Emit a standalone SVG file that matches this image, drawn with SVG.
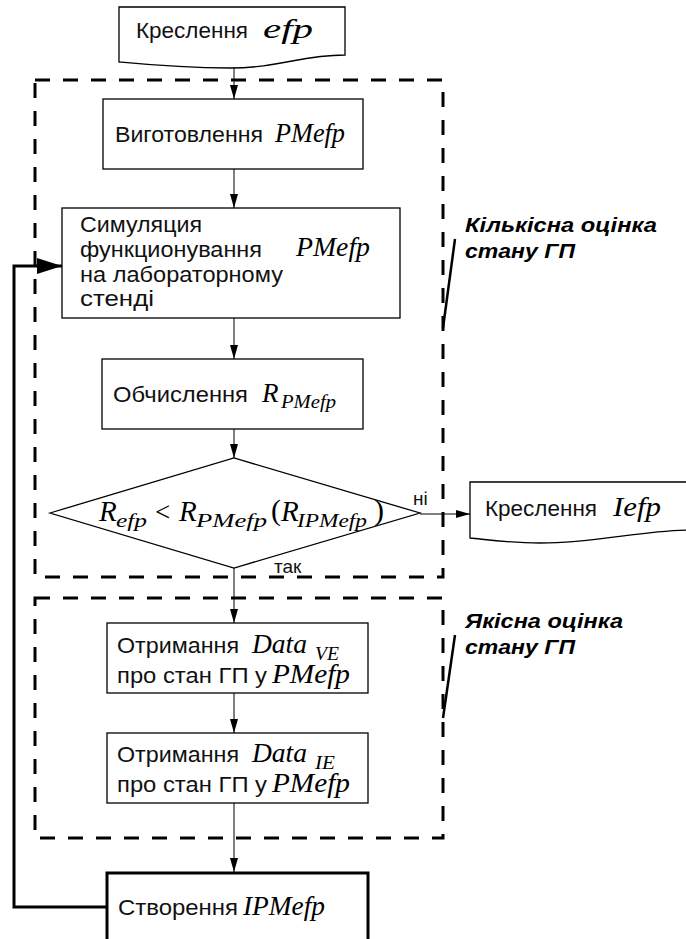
<svg xmlns="http://www.w3.org/2000/svg" width="686" height="939" viewBox="0 0 686 939">
<style>
.bg{fill:#fff}
.box{fill:#fff;stroke:#000;stroke-width:1.3}
.boxb{fill:#fff;stroke:#000;stroke-width:3}
.dash{fill:none;stroke:#000;stroke-width:3;stroke-dasharray:15 13}
.ln{fill:none;stroke:#000;stroke-width:1}
.lnb{fill:none;stroke:#000;stroke-width:3}
.t{font-family:"Liberation Sans",Arial,sans-serif;font-size:21.5px;fill:#111}
.m{font-family:"Liberation Serif","Times New Roman",serif;font-style:italic;font-size:27px;fill:#000}
.s{font-family:"Liberation Serif","Times New Roman",serif;font-style:italic;font-size:19px;fill:#000}
.u{font-family:"Liberation Serif","Times New Roman",serif;font-size:27px;fill:#000}
.lab{font-family:"Liberation Sans",Arial,sans-serif;font-size:19.5px;font-weight:bold;font-style:italic;fill:#000}
</style>
<defs>
<marker id="arr" viewBox="0 0 14 8" markerWidth="14" markerHeight="8" refX="14" refY="4" orient="auto" markerUnits="userSpaceOnUse"><path d="M0,0 L14,4 L0,8 Z" fill="#000"/></marker>
<marker id="arrb" viewBox="0 0 25 16" markerWidth="25" markerHeight="16" refX="25" refY="8" orient="auto" markerUnits="userSpaceOnUse"><path d="M0,0 L25,8 L0,16 Z" fill="#000"/></marker>
</defs>
<rect class="bg" x="0" y="0" width="686" height="939"/>

<g id="groups">
<rect class="dash" x="35" y="80" width="408" height="497"/>
<rect class="dash" x="35" y="598" width="408" height="240"/>
<line class="lnb" x1="455" y1="239" x2="443" y2="328" style="stroke-width:2.5"/>
<line class="lnb" x1="455" y1="635" x2="443" y2="718" style="stroke-width:2.5"/>
</g>

<g id="connectors">
<line class="ln" x1="234" y1="67" x2="234" y2="99" marker-end="url(#arr)"/>
<line class="ln" x1="234" y1="169" x2="234" y2="208" marker-end="url(#arr)"/>
<line class="ln" x1="234" y1="318" x2="234" y2="359" marker-end="url(#arr)"/>
<line class="ln" x1="234" y1="429" x2="234" y2="458" marker-end="url(#arr)"/>
<line class="ln" x1="420" y1="514" x2="470" y2="514" marker-end="url(#arr)"/>
<line class="ln" x1="234" y1="568" x2="234" y2="623" marker-end="url(#arr)"/>
<line class="ln" x1="234" y1="693" x2="234" y2="733" marker-end="url(#arr)"/>
<line class="ln" x1="234" y1="803" x2="234" y2="872" marker-end="url(#arr)"/>
<polyline class="lnb" points="107,907 14,907 14,266 62,266" marker-end="url(#arrb)"/>
<text class="t" x="413" y="505" style="font-size:19px">ні</text>
<text class="t" x="274" y="573" style="font-size:19px">так</text>
</g>

<g id="n-doc-efp">
<path class="box" d="M119,7 H345 V55 C300,55 280,68 230,68 C180,68 140,64 119,62 Z"/>
<text class="t" x="136" y="38" textLength="112" lengthAdjust="spacingAndGlyphs">Креслення</text>
<text class="m" x="263" y="38" textLength="50" lengthAdjust="spacingAndGlyphs">efp</text>
</g>

<g id="n-make">
<rect class="box" x="103" y="99" width="260" height="70"/>
<text class="t" x="115" y="142" textLength="148" lengthAdjust="spacingAndGlyphs">Виготовлення</text>
<text class="m" x="275" y="142" textLength="70" lengthAdjust="spacingAndGlyphs">PMefp</text>
</g>

<g id="n-sim">
<rect class="box" x="62" y="208" width="338" height="110"/>
<text class="t" x="80" y="232" textLength="122" lengthAdjust="spacingAndGlyphs">Симуляция</text>
<text class="t" x="80" y="257" textLength="182" lengthAdjust="spacingAndGlyphs">функционування</text>
<text class="t" x="80" y="282" textLength="203" lengthAdjust="spacingAndGlyphs">на лабораторному</text>
<text class="t" x="80" y="306" textLength="74" lengthAdjust="spacingAndGlyphs">стенді</text>
<text class="m" x="296" y="256" textLength="74" lengthAdjust="spacingAndGlyphs">PMefp</text>
</g>

<g id="n-calc">
<rect class="box" x="102" y="359" width="261" height="70"/>
<text class="t" x="113" y="402" textLength="135" lengthAdjust="spacingAndGlyphs">Обчислення</text>
<text class="m" x="262" y="402">R</text>
<text class="s" x="281" y="408" textLength="55" lengthAdjust="spacingAndGlyphs">PMefp</text>
</g>

<g id="n-decision">
<polygon class="box" points="50,513 234,458 420,513 234,568"/>
<text class="m" x="99" y="521" style="font-size:29px">R</text>
<text class="s" x="116" y="527" textLength="31" lengthAdjust="spacingAndGlyphs">efp</text>
<text class="u" x="155" y="521">&lt;</text>
<text class="m" x="179" y="521" style="font-size:29px">R</text>
<text class="s" x="196" y="527" textLength="71" lengthAdjust="spacingAndGlyphs">PMefp</text>
<text class="u" x="271" y="520" style="font-size:30px">(</text>
<text class="m" x="281" y="521" style="font-size:29px">R</text>
<text class="s" x="297" y="527" textLength="70" lengthAdjust="spacingAndGlyphs">IPMefp</text>
<text class="u" x="374" y="520" style="font-size:30px">)</text>
</g>

<g id="n-doc-iefp">
<path class="box" d="M470,482 H692 V530 C640,530 600,543 540,543 C510,543 490,540 470,538 Z"/>
<text class="t" x="485" y="516" textLength="112" lengthAdjust="spacingAndGlyphs">Креслення</text>
<text class="m" x="613" y="516" textLength="48" lengthAdjust="spacingAndGlyphs">Iefp</text>
</g>

<g id="n-data-ve">
<rect class="box" x="107" y="623" width="261" height="70"/>
<text class="t" x="117" y="653" textLength="122" lengthAdjust="spacingAndGlyphs">Отримання</text>
<text class="m" x="252" y="653" textLength="55" lengthAdjust="spacingAndGlyphs">Data</text>
<text class="s" x="315" y="660" textLength="24" lengthAdjust="spacingAndGlyphs">VE</text>
<text class="t" x="117" y="683" textLength="150" lengthAdjust="spacingAndGlyphs">про стан ГП у</text>
<text class="m" x="272" y="683" textLength="78" lengthAdjust="spacingAndGlyphs">PMefp</text>
</g>

<g id="n-data-ie">
<rect class="box" x="107" y="733" width="261" height="70"/>
<text class="t" x="117" y="762" textLength="122" lengthAdjust="spacingAndGlyphs">Отримання</text>
<text class="m" x="252" y="762" textLength="55" lengthAdjust="spacingAndGlyphs">Data</text>
<text class="s" x="315" y="769" textLength="20" lengthAdjust="spacingAndGlyphs">IE</text>
<text class="t" x="117" y="792" textLength="150" lengthAdjust="spacingAndGlyphs">про стан ГП у</text>
<text class="m" x="272" y="792" textLength="78" lengthAdjust="spacingAndGlyphs">PMefp</text>
</g>

<g id="n-create">
<rect class="boxb" x="107" y="873" width="261" height="75"/>
<text class="t" x="118" y="915" textLength="120" lengthAdjust="spacingAndGlyphs">Створення</text>
<text class="m" x="243" y="915" textLength="82" lengthAdjust="spacingAndGlyphs">IPMefp</text>
</g>

<g id="labels">
<text class="lab" x="465" y="232" textLength="192" lengthAdjust="spacingAndGlyphs">Кількісна оцінка</text>
<text class="lab" x="465" y="258" textLength="110" lengthAdjust="spacingAndGlyphs">стану ГП</text>
<text class="lab" x="465" y="628" textLength="158" lengthAdjust="spacingAndGlyphs">Якісна оцінка</text>
<text class="lab" x="465" y="654" textLength="110" lengthAdjust="spacingAndGlyphs">стану ГП</text>
</g>
</svg>
